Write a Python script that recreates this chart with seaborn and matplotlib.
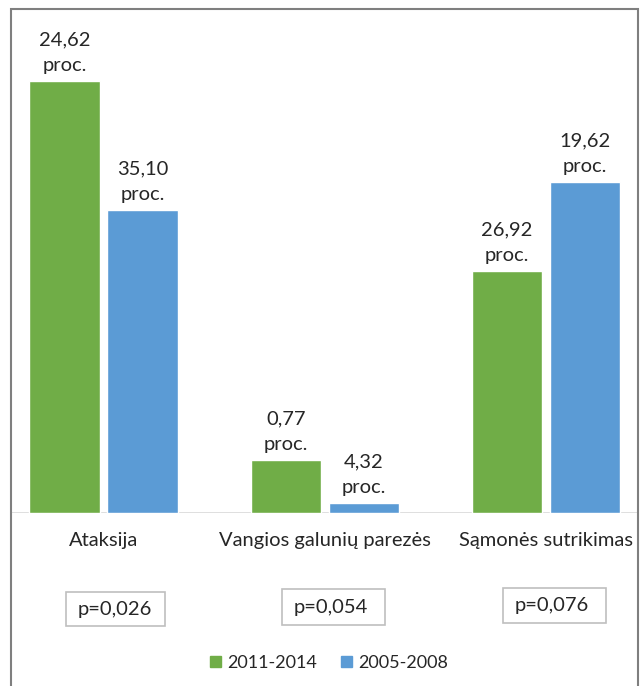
import matplotlib
matplotlib.use("Agg")
import matplotlib.pyplot as plt
from matplotlib.patches import Rectangle
import seaborn as sns
import pandas as pd

# ---- data ----
categories = ["Ataksija", "Vangios galunių parezės", "Sąmonės sutrikimas"]
series = ["2011-2014", "2005-2008"]
heights_2011 = [43.2, 5.3, 24.2]
heights_2005 = [30.3, 1.0, 33.1]
labels_2011 = ["24,62", "0,77", "26,92"]
labels_2005 = ["35,10", "4,32", "19,62"]
p_values = ["p=0,026", "p=0,054", "p=0,076"]

colors = {"2011-2014": "#70AD47", "2005-2008": "#5B9BD5"}

df = pd.DataFrame({
    "kategorija": categories * 2,
    "laikotarpis": [series[0]] * 3 + [series[1]] * 3,
    "reiksme": heights_2011 + heights_2005,
})

sns.set_theme(style="white")
plt.rcParams["font.family"] = ["Lato", "DejaVu Sans"]

W, H = 642, 686
fig = plt.figure(figsize=(W / 100, H / 100), dpi=100)

def fx(px):
    return px / W

def fy(py):
    return 1 - py / H

ax_left, ax_right = 11, 638
ax_top, ax_base = 9, 513
ax = fig.add_axes([fx(ax_left), fy(ax_base), fx(ax_right - ax_left), (ax_base - ax_top) / H])

sns.barplot(data=df, x="kategorija", y="reiksme", hue="laikotarpis",
            hue_order=series, order=categories, palette=colors,
            width=0.705, gap=0.1, ax=ax, legend=False, saturation=1)

c0, dc = 103.5, 221.3
ax.set_xlim((ax_left - c0) / dc, (ax_right - c0) / dc)
ax.set_ylim(0, (ax_base - ax_top) / 10.0)

for cont, labs in zip(ax.containers, [labels_2011, labels_2005]):
    ax.bar_label(cont, labels=[f"{l}\nproc." for l in labs], padding=5,
                 fontsize=14.5, color="#262626", linespacing=1.6)

for s in ax.spines.values():
    s.set_visible(False)
ax.axhline(0, color="#d9d9d9", lw=1.2, zorder=0)
ax.set_yticks([])
ax.set_xlabel("")
ax.set_ylabel("")
ax.tick_params(axis="x", length=0, pad=14, labelsize=14.5, labelcolor="#262626")
ax.patch.set_alpha(0)

# p-value boxes
boxes = [(66, 592, 165, 626), (282, 589, 385, 625), (503, 588, 606, 623)]
for (x0, y0, x1, y1), pv in zip(boxes, p_values):
    fig.add_artist(Rectangle((fx(x0), fy(y1)), fx(x1 - x0), (y1 - y0) / H,
                             transform=fig.transFigure, fill=False,
                             edgecolor="#bfbfbf", lw=1.2))
    fig.text(fx(x0 + 12), fy((y0 + y1) / 2), pv, ha="left", va="center",
             fontsize=14.5, color="#262626")

# legend
handles = [Rectangle((0, 0), 1, 1, color=colors[s]) for s in series]
fig.legend(handles, series, loc="center", bbox_to_anchor=(fx(329), fy(663)),
           ncol=2, frameon=False, fontsize=13, handlelength=0.62,
           handleheight=0.62, handletextpad=0.35, columnspacing=1.3,
           labelcolor="#262626")

# outer frame
fig.add_artist(Rectangle((fx(11), fy(H + 20)), fx(638 - 11), (H + 20 - 9) / H,
                         transform=fig.transFigure, fill=False,
                         edgecolor="#7f7f7f", lw=1.5))

fig.savefig("out.png", dpi=100, facecolor="white")
